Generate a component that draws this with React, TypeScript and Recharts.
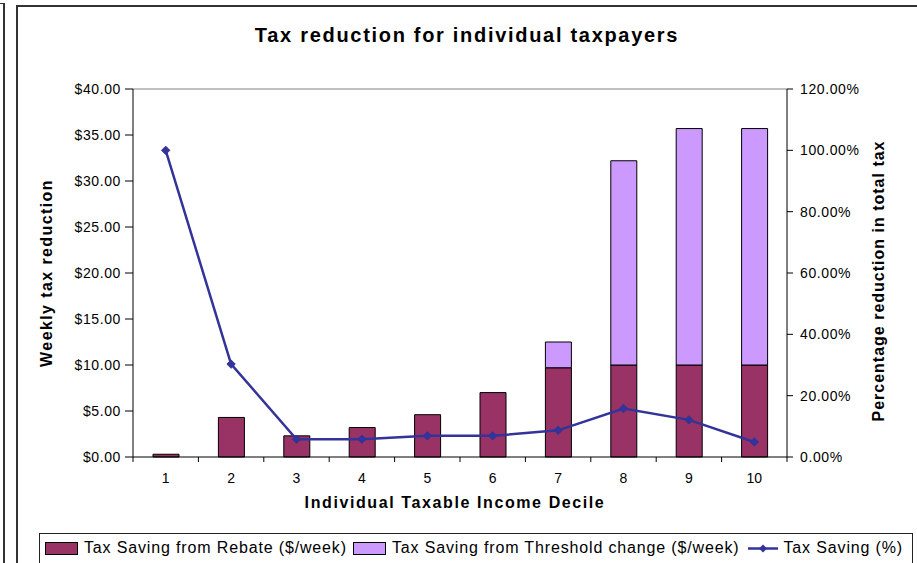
import React from 'react';
import { ComposedChart, Bar, Line, XAxis, YAxis, ReferenceLine } from 'recharts';

const deciles = ['1', '2', '3', '4', '5', '6', '7', '8', '9', '10'];
const rebate = [0.3, 4.3, 2.3, 3.2, 4.6, 7.0, 9.7, 10.0, 10.0, 10.0];
const threshold = [0, 0, 0, 0, 0, 0, 2.8, 22.2, 25.7, 25.7];
const savingPct = [100, 30.3, 5.8, 5.8, 6.9, 6.9, 8.7, 15.8, 12.1, 4.9];
const leftTicks = [0, 5, 10, 15, 20, 25, 30, 35, 40];
const rightTicks = [0, 20, 40, 60, 80, 100, 120];

const seriesNames = [
  'Tax Saving from Rebate ($/week)',
  'Tax Saving from Threshold change ($/week)',
  'Tax Saving (%)',
];

const data = deciles.map((d, i) => ({
  decile: d,
  rebate: rebate[i],
  threshold: threshold[i],
  pct: savingPct[i],
}));

const W = 917;
const H = 563;
const LEFT_W = 133;
const RIGHT_W = 130;
const BAND = (W - LEFT_W - RIGHT_W) / deciles.length;
const FONT = '"Liberation Sans", Arial, sans-serif';
const LINE_COLOR = '#333399';

function XTick(props: any) {
  const { x, y, payload, index } = props;
  const l = x - BAND / 2;
  const r = x + BAND / 2;
  return (
    <g>
      <line x1={l} x2={l} y1={y} y2={y + 5} stroke="#000" />
      {index === deciles.length - 1 && <line x1={r} x2={r} y1={y} y2={y + 5} stroke="#000" />}
      <text x={x} y={y + 26} textAnchor="middle" fontSize={14} fill="#000" fontFamily={FONT}>
        {payload.value}
      </text>
    </g>
  );
}

function Diamond(props: any) {
  const { cx, cy, index } = props;
  if (cx == null || cy == null) return <g key={index} />;
  const r = 4.2;
  return (
    <polygon
      key={index}
      points={`${cx},${cy - r} ${cx + r},${cy} ${cx},${cy + r} ${cx - r},${cy}`}
      fill={LINE_COLOR}
      stroke={LINE_COLOR}
    />
  );
}

export default function App() {
  const tickStyle = { fontSize: 14, fill: '#000', fontFamily: FONT, letterSpacing: 0.6 };
  return (
    <div
      style={{
        position: 'absolute',
        left: 0,
        top: 0,
        width: W,
        height: H,
        background: '#fff',
        overflow: 'hidden',
        fontFamily: FONT,
      }}
    >
      <div style={{ position: 'absolute', left: 0, top: 0 }}>
        <ComposedChart
          width={W}
          height={H}
          data={data}
          margin={{ top: 89, right: 0, bottom: 76, left: 0 }}
          barSize={26}
        >
          <XAxis
            dataKey="decile"
            height={30}
            tickLine={false}
            tickSize={0}
            tickMargin={0}
            interval={0}
            axisLine={{ stroke: '#000' }}
            tick={<XTick />}
          />
          <YAxis
            yAxisId="left"
            orientation="left"
            width={LEFT_W}
            domain={[0, 40]}
            ticks={leftTicks}
            interval={0}
            tickFormatter={(v: number) => `$${v.toFixed(2)}`}
            tickSize={8}
            tickMargin={4}
            axisLine={{ stroke: '#000' }}
            tickLine={{ stroke: '#000' }}
            tick={tickStyle}
          />
          <YAxis
            yAxisId="right"
            orientation="right"
            width={RIGHT_W}
            domain={[0, 120]}
            ticks={rightTicks}
            interval={0}
            tickFormatter={(v: number) => `${v.toFixed(2)}%`}
            tickSize={6}
            tickMargin={7}
            axisLine={{ stroke: '#000' }}
            tickLine={{ stroke: '#000' }}
            tick={tickStyle}
          />
          <ReferenceLine yAxisId="left" y={40} stroke="#808080" />
          <Bar
            yAxisId="left"
            dataKey="rebate"
            stackId="s"
            fill="#993366"
            stroke="#000"
            strokeWidth={1}
            isAnimationActive={false}
          />
          <Bar
            yAxisId="left"
            dataKey="threshold"
            stackId="s"
            fill="#CC99FF"
            stroke="#000"
            strokeWidth={1}
            isAnimationActive={false}
          />
          <Line
            yAxisId="right"
            dataKey="pct"
            stroke={LINE_COLOR}
            strokeWidth={2.5}
            dot={Diamond}
            activeDot={false}
            isAnimationActive={false}
          />
        </ComposedChart>
      </div>

      <svg
        width={W}
        height={H}
        style={{ position: 'absolute', left: 0, top: 0, pointerEvents: 'none' }}
      >
        <rect x={3} y={3} width={2} height={H} fill="#333" />
        <rect x={0} y={3} width={5} height={1} fill="#333" />
        <rect x={16} y={5} width={W} height={2} fill="#333" />
        <rect x={16} y={5} width={2} height={H} fill="#333" />
        <text
          x={467}
          y={42}
          textAnchor="middle"
          fontSize={20}
          fontWeight="bold"
          letterSpacing={1.7}
          fontFamily={FONT}
          fill="#000"
        >
          Tax reduction for individual taxpayers
        </text>
        <text
          x={455}
          y={508}
          textAnchor="middle"
          fontSize={16}
          fontWeight="bold"
          letterSpacing={1.6}
          fontFamily={FONT}
          fill="#000"
        >
          Individual Taxable Income Decile
        </text>
        <text
          transform="translate(52,273) rotate(-90)"
          textAnchor="middle"
          fontSize={16}
          fontWeight="bold"
          letterSpacing={1.4}
          fontFamily={FONT}
          fill="#000"
        >
          Weekly tax reduction
        </text>
        <text
          transform="translate(884,281) rotate(-90)"
          textAnchor="middle"
          fontSize={16}
          fontWeight="bold"
          letterSpacing={1.0}
          fontFamily={FONT}
          fill="#000"
        >
          Percentage reduction in total tax
        </text>
      </svg>

      <div
        style={{
          position: 'absolute',
          left: 39,
          top: 533,
          width: 874,
          height: 40,
          border: '1px solid #222',
          boxSizing: 'border-box',
          display: 'flex',
          alignItems: 'flex-start',
          paddingLeft: 5,
          paddingTop: 5,
          fontSize: 16,
          letterSpacing: 0.85,
          color: '#000',
          whiteSpace: 'nowrap',
          lineHeight: '18px',
        }}
      >
        <span style={{ display: 'inline-block', width: 31, height: 11, background: '#993366', border: '1px solid #000', marginTop: 3 }} />
        <span style={{ marginLeft: 6 }}>{seriesNames[0]}</span>
        <span style={{ display: 'inline-block', width: 31, height: 11, background: '#CC99FF', border: '1px solid #000', marginTop: 3, marginLeft: 6 }} />
        <span style={{ marginLeft: 6 }}>{seriesNames[1]}</span>
        <svg width={34} height={18} style={{ marginLeft: 6 }}>
          <line x1={2} x2={32} y1={9.5} y2={9.5} stroke={LINE_COLOR} strokeWidth={2.5} />
          <polygon points="17,5.5 21,9.5 17,13.5 13,9.5" fill={LINE_COLOR} />
        </svg>
        <span style={{ marginLeft: 4 }}>{seriesNames[2]}</span>
      </div>
    </div>
  );
}
